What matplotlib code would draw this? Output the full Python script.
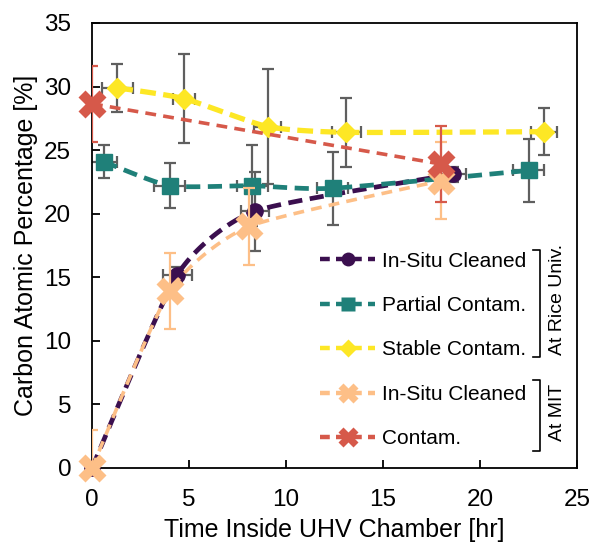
import matplotlib

matplotlib.use("Agg")
import matplotlib.pyplot as plt
import numpy as np
from matplotlib.lines import Line2D

plt.rcParams["font.family"] = ["Liberation Sans", "DejaVu Sans"]

# Rice Univ. samples
rice_clean_x = [0.0, 4.4, 8.4, 18.6]
rice_clean_y = [0.0, 15.2, 20.2, 23.1]
rice_clean_xerr = [0.0, 0.75, 0.7, 0.7]
rice_clean_yerr = [0.0, 0.6, 3.1, 0.6]

rice_partial_x = [0.6, 4.0, 8.25, 12.4, 22.5]
rice_partial_y = [24.1, 22.2, 22.2, 22.0, 23.4]
rice_partial_xerr = [0.7, 0.8, 0.8, 0.8, 0.8]
rice_partial_yerr = [1.3, 1.75, 3.2, 2.85, 2.5]

rice_stable_x = [1.3, 4.75, 9.05, 13.1, 23.3]
rice_stable_y = [29.9, 29.05, 26.85, 26.4, 26.45]
rice_stable_xerr = [0.8, 0.55, 0.7, 0.75, 0.65]
rice_stable_yerr = [1.9, 3.5, 4.5, 2.7, 1.85]

# MIT samples
mit_clean_x = [0.0, 4.0, 8.1, 18.0]
mit_clean_y = [0.0, 13.9, 19.0, 22.6]
mit_clean_yerr = [3.0, 3.0, 3.0, 3.0]

mit_contam_x = [0.0, 18.0]
mit_contam_y = [28.65, 23.9]
mit_contam_yerr = [3.0, 3.0]

labels = ["In-Situ Cleaned", "Partial Contam.", "Stable Contam.",
          "In-Situ Cleaned", "Contam."]
colors = ["#3b0f4f", "#1f8079", "#fde725", "#fdbf87", "#d6594a"]
err_grey = "#5f5f5f"


def smooth(ax, x, y, n=30, k=0.1):
    # spreadsheet-style smoothed line, built in screen space
    p = ax.transData.transform(np.column_stack([x, y]).astype(float))
    if len(p) < 3:
        return np.asarray(x, float), np.asarray(y, float)
    ext = np.vstack([p[0], p, p[-1]])
    out = []
    t = np.linspace(0, 1, n)[:, None]
    for i in range(1, len(ext) - 2):
        p0, p1, p2, p3 = ext[i - 1], ext[i], ext[i + 1], ext[i + 2]
        c1 = p1 + (p2 - p0) * k
        c2 = p2 - (p3 - p1) * k
        seg = ((1 - t) ** 3) * p1 + 3 * ((1 - t) ** 2) * t * c1 \
            + 3 * (1 - t) * t ** 2 * c2 + t ** 3 * p2
        out.append(seg if i == 1 else seg[1:])
    out = ax.transData.inverted().transform(np.vstack(out))
    return out[:, 0], out[:, 1]


fig = plt.figure(figsize=(5.92, 5.46), dpi=100)
ax = fig.add_axes([0.1554, 0.1429, 0.8193, 0.815])
ax.set_xlim(0, 25)
ax.set_ylim(0, 35)

series = [
    (rice_clean_x, rice_clean_y, rice_clean_xerr, rice_clean_yerr, "o", 11, 3.4, (3, 1.6)),
    (rice_partial_x, rice_partial_y, rice_partial_xerr, rice_partial_yerr, "s", 11, 3.4, (3, 1.6)),
    (rice_stable_x, rice_stable_y, rice_stable_xerr, rice_stable_yerr, "D", 10, 3.8, (3, 1.4)),
]
for i, (x, y, xe, ye, m, ms, lw, dash) in enumerate(series):
    ax.errorbar(x, y, xerr=xe, yerr=ye, fmt="none", ecolor=err_grey,
                elinewidth=1.6, capsize=4, capthick=1.6, zorder=2)
    sx, sy = smooth(ax, x, y)
    ax.plot(sx, sy, color=colors[i], lw=lw, dashes=dash, zorder=3)
    ax.plot(x, y, ls="none", marker=m, ms=ms, color=colors[i], zorder=4,
            clip_on=False)

mit = [
    (mit_clean_x, mit_clean_y, mit_clean_yerr),
    (mit_contam_x, mit_contam_y, mit_contam_yerr),
]
for j, (x, y, ye) in enumerate(mit):
    c = colors[3 + j]
    ax.errorbar(x, y, yerr=ye, fmt="none", ecolor=c, elinewidth=1.6,
                capsize=4, capthick=1.6, zorder=5)
    sx, sy = smooth(ax, x, y)
    ax.plot(sx, sy, color=c, lw=2.6, dashes=(3, 2), zorder=6)
    ax.plot(x, y, ls="none", marker="X", ms=20, color=c, mec="none",
            zorder=7, clip_on=False)

ax.set_xticks(range(0, 26, 5))
ax.set_yticks(range(0, 36, 5))
ax.tick_params(direction="in", length=6, width=1.3, labelsize=17.5,
               colors="black")
ax.tick_params(axis="y", pad=15)
ax.tick_params(axis="x", pad=15)
for s in ax.spines.values():
    s.set_linewidth(1.3)
ax.set_xlabel("Time Inside UHV Chamber [hr]", fontsize=18, labelpad=5)
ax.set_ylabel("Carbon Atomic Percentage [%]", fontsize=18, labelpad=4)

handles = []
for k in range(5):
    marker = ["o", "s", "D", "X", "X"][k]
    ms = [10, 10, 9, 14, 14][k]
    handles.append(Line2D([], [], color=colors[k], lw=3.2, dashes=(2.2, 1.4),
                          marker=marker, ms=ms, mec="none"))
ax.legend(handles, labels, loc="upper left", bbox_to_anchor=(0.453, 0.505),
          frameon=False, fontsize=15, handlelength=2.65, handletextpad=0.3,
          labelspacing=1.22, borderaxespad=0)

tr = ax.transAxes
for top, bot, txt, ty in [(0.49, 0.249, "At Rice Univ.", 0.379),
                          (0.198, 0.038, "At MIT", 0.124)]:
    ax.plot([0.909, 0.924, 0.924, 0.909], [top, top, bot, bot], color="black",
            lw=1.2, transform=tr, clip_on=False)
    ax.text(0.960, ty, txt, rotation=90, ha="center", va="center",
            fontsize=14, transform=tr)

fig.savefig("out.png", dpi=100)
